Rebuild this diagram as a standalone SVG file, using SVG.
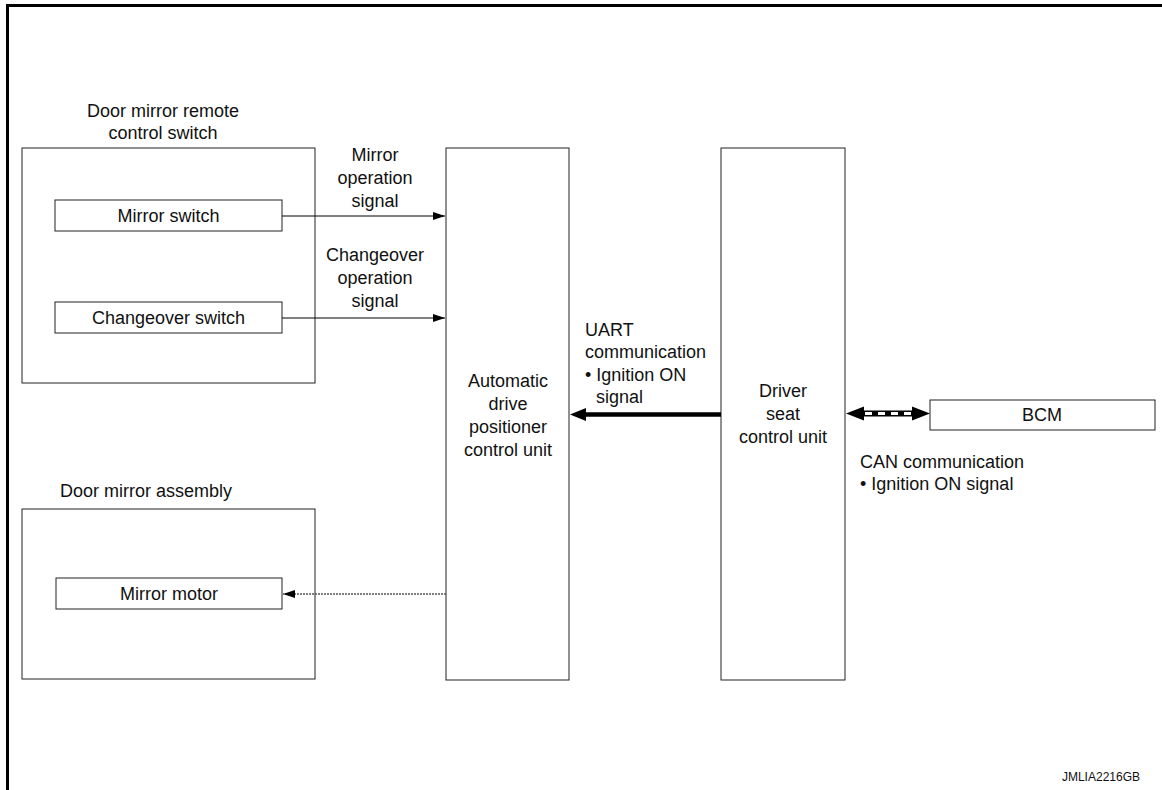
<svg xmlns="http://www.w3.org/2000/svg" width="1162" height="790" viewBox="0 0 1162 790">
<style>
  text { font-family: "Liberation Sans", Arial, sans-serif; font-size: 18px; fill: #111; }
  .c { text-anchor: middle; }
  .box { fill: #fff; stroke: #222; stroke-width: 1; }
  .frame { stroke: #000; stroke-width: 3; fill: none; }
  .sig { stroke: #000; stroke-width: 1; fill: none; }
  .dot { stroke: #555; stroke-width: 1.5; stroke-dasharray: 2 1; fill: none; }
  .small { font-size: 12px; }
</style>
<defs>
  <marker id="arr" markerWidth="12" markerHeight="8" refX="12" refY="4" orient="auto" markerUnits="userSpaceOnUse">
    <path d="M0,0 L12,4 L0,8 Z" fill="#000"/>
  </marker>
</defs>
<rect width="1162" height="790" fill="#fff"/>
<g id="frame">
  <line class="frame" x1="7.5" y1="4" x2="7.5" y2="790"/>
  <line class="frame" x1="6" y1="5.5" x2="1162" y2="5.5"/>
</g>
<g id="remote-switch">
  <text class="c" x="163" y="117">Door mirror remote</text>
  <text class="c" x="163" y="139">control switch</text>
  <rect class="box" x="22" y="148" width="293" height="235"/>
</g>
<g id="mirror-switch">
  <rect class="box" x="55" y="200" width="227" height="31"/>
  <text class="c" x="168.5" y="222">Mirror switch</text>
</g>
<g id="changeover-switch">
  <rect class="box" x="55" y="302" width="227" height="31"/>
  <text class="c" x="168.5" y="324">Changeover switch</text>
</g>
<g id="mirror-assembly">
  <text class="c" x="146" y="497">Door mirror assembly</text>
  <rect class="box" x="22" y="509" width="293" height="170"/>
</g>
<g id="mirror-motor">
  <rect class="box" x="56" y="578" width="226" height="31"/>
  <text class="c" x="169" y="600">Mirror motor</text>
</g>
<g id="adp-unit">
  <rect class="box" x="446" y="148" width="123" height="532"/>
  <text class="c" x="508" y="387">Automatic</text>
  <text class="c" x="508" y="410">drive</text>
  <text class="c" x="508" y="433">positioner</text>
  <text class="c" x="508" y="456">control unit</text>
</g>
<g id="driver-seat-unit">
  <rect class="box" x="721" y="148" width="124" height="532"/>
  <text class="c" x="783" y="397">Driver</text>
  <text class="c" x="783" y="420">seat</text>
  <text class="c" x="783" y="443">control unit</text>
</g>
<g id="bcm">
  <rect class="box" x="930" y="400" width="225" height="30"/>
  <text class="c" x="1042" y="421">BCM</text>
</g>
<g id="connectors">
  <line class="sig" x1="282" y1="216" x2="445" y2="216" marker-end="url(#arr)"/>
  <line class="sig" x1="282" y1="318" x2="445" y2="318" marker-end="url(#arr)"/>
  <line class="dot" x1="446" y1="594" x2="283" y2="594"/>
  <path d="M283,594 L295,590 L295,598 Z" fill="#000"/>
  <line x1="721" y1="414.5" x2="584" y2="414.5" stroke="#000" stroke-width="4.5"/>
  <path d="M570,414.5 L586,408 L586,421 Z" fill="#000"/>
  <line x1="862" y1="413.5" x2="914" y2="413.5" stroke="#000" stroke-width="6"/>
  <line x1="865" y1="413.5" x2="911" y2="413.5" stroke="#fff" stroke-width="3" stroke-dasharray="7 6"/>
  <path d="M846,413.5 L864,406.5 L864,420.5 Z" fill="#000"/>
  <path d="M930,413.5 L912,406.5 L912,420.5 Z" fill="#000"/>
</g>
<g id="labels">
  <text class="c" x="375" y="161">Mirror</text>
  <text class="c" x="375" y="184">operation</text>
  <text class="c" x="375" y="207">signal</text>
  <text class="c" x="375" y="261">Changeover</text>
  <text class="c" x="375" y="284">operation</text>
  <text class="c" x="375" y="307">signal</text>
  <text x="585" y="336">UART</text>
  <text x="585" y="358">communication</text>
  <text x="585" y="381">• Ignition ON</text>
  <text x="596" y="403">signal</text>
  <text x="860" y="468">CAN communication</text>
  <text x="860" y="490">• Ignition ON signal</text>
  <text class="small" x="1140" y="781" text-anchor="end">JMLIA2216GB</text>
</g>
</svg>
